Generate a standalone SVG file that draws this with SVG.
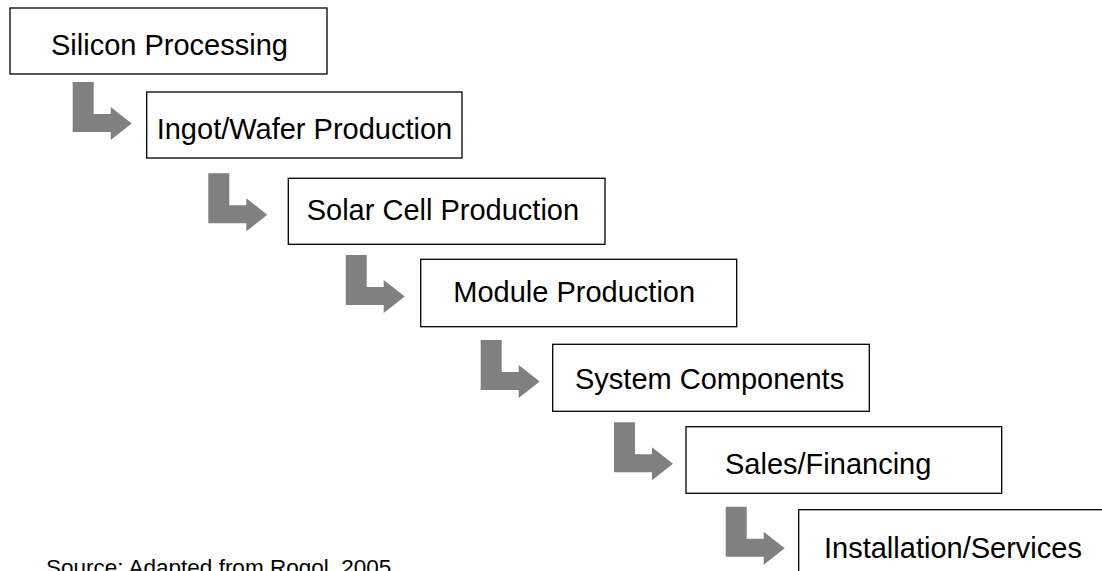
<svg xmlns="http://www.w3.org/2000/svg" xmlns:xlink="http://www.w3.org/1999/xlink" width="1102" height="571" viewBox="0 0 1102 571">
<style>
.box{fill:#fff;stroke:#000;stroke-width:1.3}
.lbl{font-family:"Liberation Sans",Arial,sans-serif;font-size:29px;fill:#000}
.src{font-family:"Liberation Sans",Arial,sans-serif;font-size:22.5px;fill:#000}
.arr{fill:#808080}
</style>
<defs>
<path id="bent" class="arr" d="M0,0 H21 V32 H38 V25 L59,41.5 L38,58 V50 H0 Z"/>
</defs>
<rect width="1102" height="571" fill="#fff"/>
<g id="connectors">
<use xlink:href="#bent" href="#bent" transform="translate(72.7,82)"/>
<use xlink:href="#bent" href="#bent" transform="translate(208.3,173.3)"/>
<use xlink:href="#bent" href="#bent" transform="translate(345.7,255)"/>
<use xlink:href="#bent" href="#bent" transform="translate(480.7,340)"/>
<use xlink:href="#bent" href="#bent" transform="translate(614,422.3)"/>
<use xlink:href="#bent" href="#bent" transform="translate(725.7,506.7)"/>
</g>
<g id="n1"><rect class="box" x="10" y="8" width="317" height="66"/><text class="lbl" x="51" y="54.5">Silicon Processing</text></g>
<g id="n2"><rect class="box" x="146.7" y="92" width="315.3" height="66"/><text class="lbl" x="156.7" y="138.5">Ingot/Wafer Production</text></g>
<g id="n3"><rect class="box" x="288.3" y="178.3" width="316.7" height="66"/><text class="lbl" x="306.7" y="220">Solar Cell Production</text></g>
<g id="n4"><rect class="box" x="420.7" y="259.3" width="316" height="67.4"/><text class="lbl" x="453.3" y="301.7">Module Production</text></g>
<g id="n5"><rect class="box" x="552.7" y="344.3" width="316.6" height="67"/><text class="lbl" x="575" y="389">System Components</text></g>
<g id="n6"><rect class="box" x="686" y="426.7" width="315.7" height="66.6"/><text class="lbl" x="725" y="474">Sales/Financing</text></g>
<g id="n7"><rect class="box" x="798.7" y="509.7" width="320" height="80"/><text class="lbl" x="824" y="558">Installation/Services</text></g>
<text class="src" x="46" y="575">Source: Adapted from Rogol, 2005</text>
</svg>
